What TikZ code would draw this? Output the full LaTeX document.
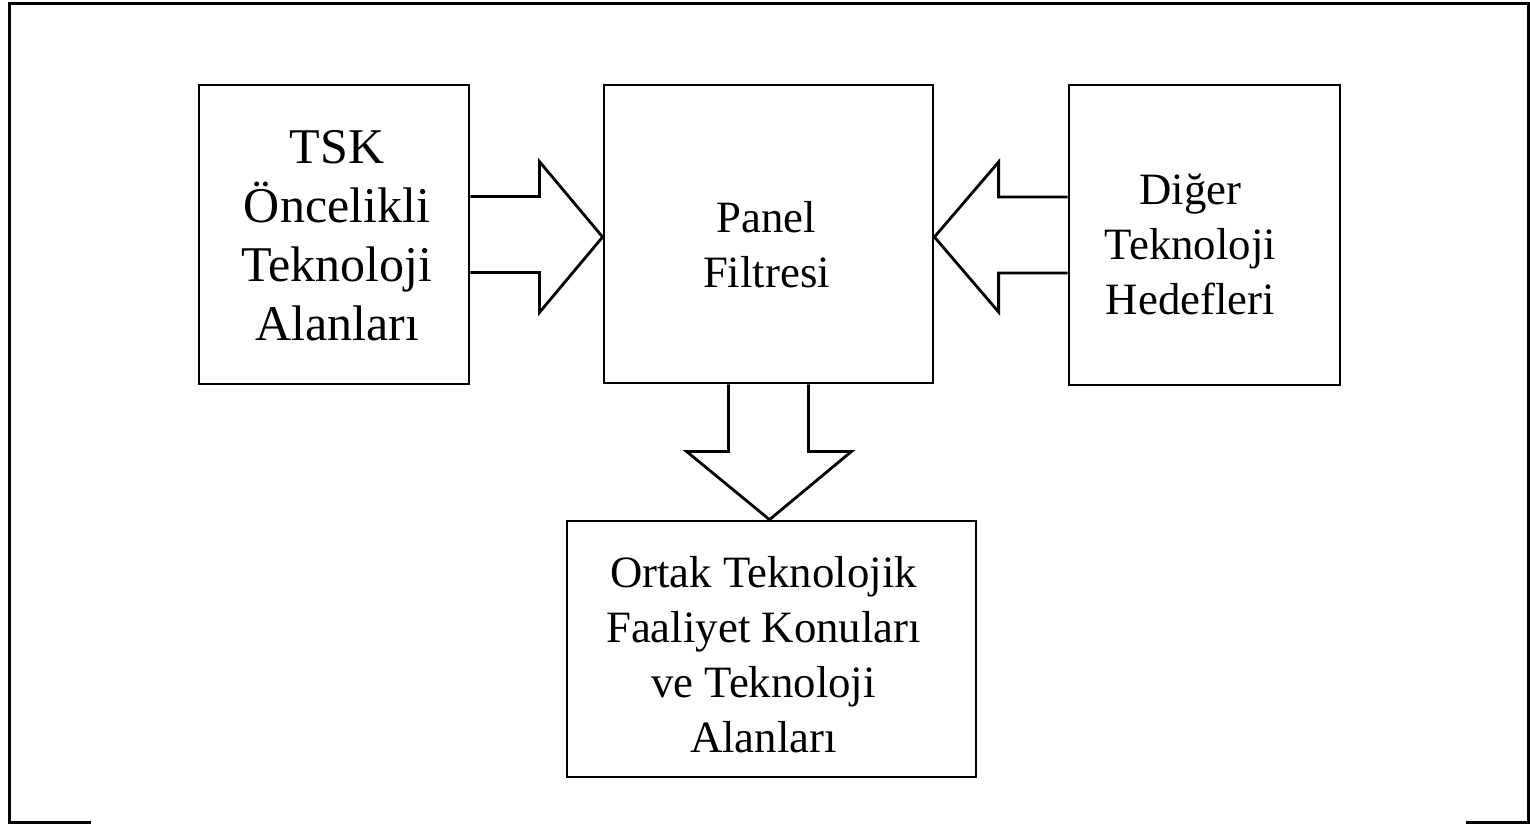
\documentclass[tikz,border=0pt]{standalone}
\usepackage{fontspec}
\setmainfont{Liberation Serif}
\usetikzlibrary{calc}

\begin{document}
\begin{tikzpicture}[x=0.5pt, y=-0.5pt, line join=miter]
\tikzset{
  kutu/.style={draw, inner sep=0pt, line width=1.4pt},
  yazi/.style={align=center, inner sep=0pt, font=\fontsize{22.4}{27.5}\selectfont},
  buyukyazi/.style={align=center, inner sep=0pt, font=\fontsize{25}{29.5}\selectfont},
  blokok/.style={draw, line width=1.4pt},
}
\useasboundingbox (0,0) rectangle (1530,824);

% cerceve
\draw[line width=1.5pt] (91,822) -- (9,822) -- (9,4) -- (1528,4) -- (1528,822) -- (1466,822);

\node[kutu, minimum width=135pt, minimum height=149.5pt] (tsk) at (334,234.5) {};
\node[kutu, minimum width=164.5pt, minimum height=149pt] (panel) at (768.5,234) {};
\node[kutu, minimum width=135.5pt, minimum height=150pt] (diger) at (1204.5,235) {};
\node[kutu, minimum width=204.5pt, minimum height=128pt] (ortak) at (771.5,649) {};

\node[buyukyazi] (tsk-yazi) at ($(tsk)+(3,1)$) {TSK\\Öncelikli\\Teknoloji\\Alanları};
\node[yazi] (panel-yazi) at ($(panel)+(-2,11)$) {Panel\\Filtresi};
\node[yazi] (diger-yazi) at ($(diger)+(-14,9)$) {Diğer\\Teknoloji\\Hedefleri};
\node[yazi] (ortak-yazi) at ($(ortak)+(-8,6)$) {Ortak Teknolojik\\Faaliyet Konuları\\ve Teknoloji\\Alanları};

% blok oklar
\draw[blokok] ($(tsk.east)+(0,-38)$) -- ($(tsk.east)+(69,-38)$) -- ($(tsk.east)+(69,-73)$) -- ($(panel.west)+(0,3)$) -- ($(tsk.east)+(69,78)$) -- ($(tsk.east)+(69,38)$) -- ($(tsk.east)+(0,38)$);
\draw[blokok] ($(diger.west)+(0,-38)$) -- ($(diger.west)+(-69,-38)$) -- ($(diger.west)+(-69,-73)$) -- ($(panel.east)+(0,3)$) -- ($(diger.west)+(-69,77)$) -- ($(diger.west)+(-69,38)$) -- ($(diger.west)+(0,38)$);
\draw[blokok] ($(panel.south)+(-40,0)$) -- ($(panel.south)+(-40,67)$) -- ($(panel.south)+(-82,67)$) -- ($(ortak.north)+(-2,0)$) -- ($(panel.south)+(83,67)$) -- ($(panel.south)+(40,67)$) -- ($(panel.south)+(40,0)$);

\end{tikzpicture}
\end{document}
